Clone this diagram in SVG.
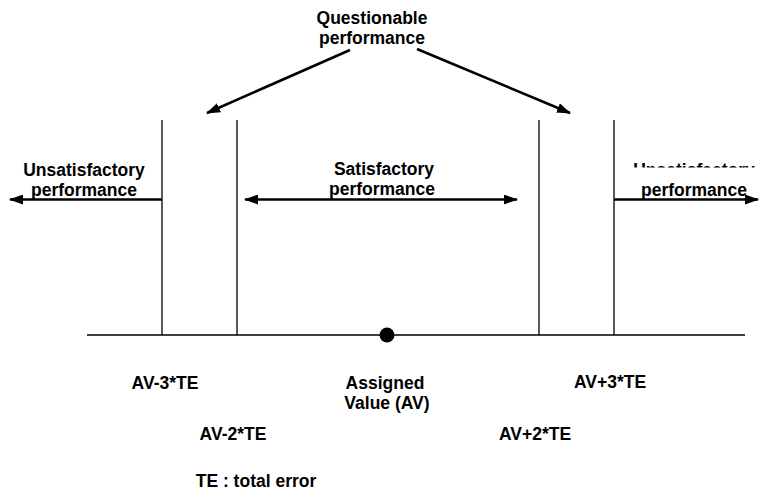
<svg xmlns="http://www.w3.org/2000/svg" width="760" height="499" viewBox="0 0 760 499">
<style>
text{font-family:"Liberation Sans",Arial,sans-serif;font-weight:bold;font-size:17.5px;fill:#000;text-anchor:middle}
.ln{stroke:#000;stroke-width:1.3;fill:none}
.ar{stroke:#000;stroke-width:2.6;fill:none;marker-end:url(#ah)}
</style>
<defs>
<marker id="ah" markerUnits="userSpaceOnUse" markerWidth="14" markerHeight="10" refX="13" refY="5" orient="auto">
<path d="M0,0 L14,5 L0,10 Z" fill="#000"/>
</marker>
<clipPath id="clipU"><rect x="600" y="0" width="160" height="167.5"/></clipPath>
</defs>
<g id="axis">
<line class="ln" x1="87" y1="335" x2="745" y2="335"/>
<circle cx="387" cy="335" r="7.5" fill="#000"/>
</g>
<g id="limits">
<line class="ln" x1="162" y1="120" x2="162" y2="335"/>
<line class="ln" x1="237" y1="120" x2="237" y2="335"/>
<line class="ln" x1="539" y1="120" x2="539" y2="335"/>
<line class="ln" x1="614" y1="120" x2="614" y2="335"/>
</g>
<g id="connectors">
<line class="ar" x1="350" y1="50" x2="207" y2="113"/>
<line class="ar" x1="417" y1="49" x2="570" y2="113"/>
<line class="ar" x1="162" y1="199.5" x2="10" y2="199.5"/>
<line class="ar" x1="381" y1="199.5" x2="245" y2="199.5"/>
<line class="ar" x1="381" y1="199.5" x2="517" y2="199.5"/>
<line class="ar" x1="614" y1="199.5" x2="758" y2="199.5"/>
</g>
<g id="questionable">
<text x="372" y="24">Questionable</text>
<text x="372" y="44">performance</text>
</g>
<g id="unsat-left">
<text x="84" y="176">Unsatisfactory</text>
<text x="84" y="196">performance</text>
</g>
<g id="satisfactory">
<rect x="325" y="182" width="114" height="16" fill="#fff"/>
<text x="384" y="175">Satisfactory</text>
<text x="382" y="195">performance</text>
</g>
<g id="unsat-right">
<text x="694" y="176" clip-path="url(#clipU)">Unsatisfactory</text>
<text x="694" y="196">performance</text>
</g>
<g id="labels">
<text x="165" y="389">AV-3*TE</text>
<text x="233" y="440">AV-2*TE</text>
<text x="385" y="389">Assigned</text>
<text x="387" y="409">Value (AV)</text>
<text x="610" y="388">AV+3*TE</text>
<text x="535" y="440">AV+2*TE</text>
<text x="256" y="487">TE : total error</text>
</g>
</svg>
